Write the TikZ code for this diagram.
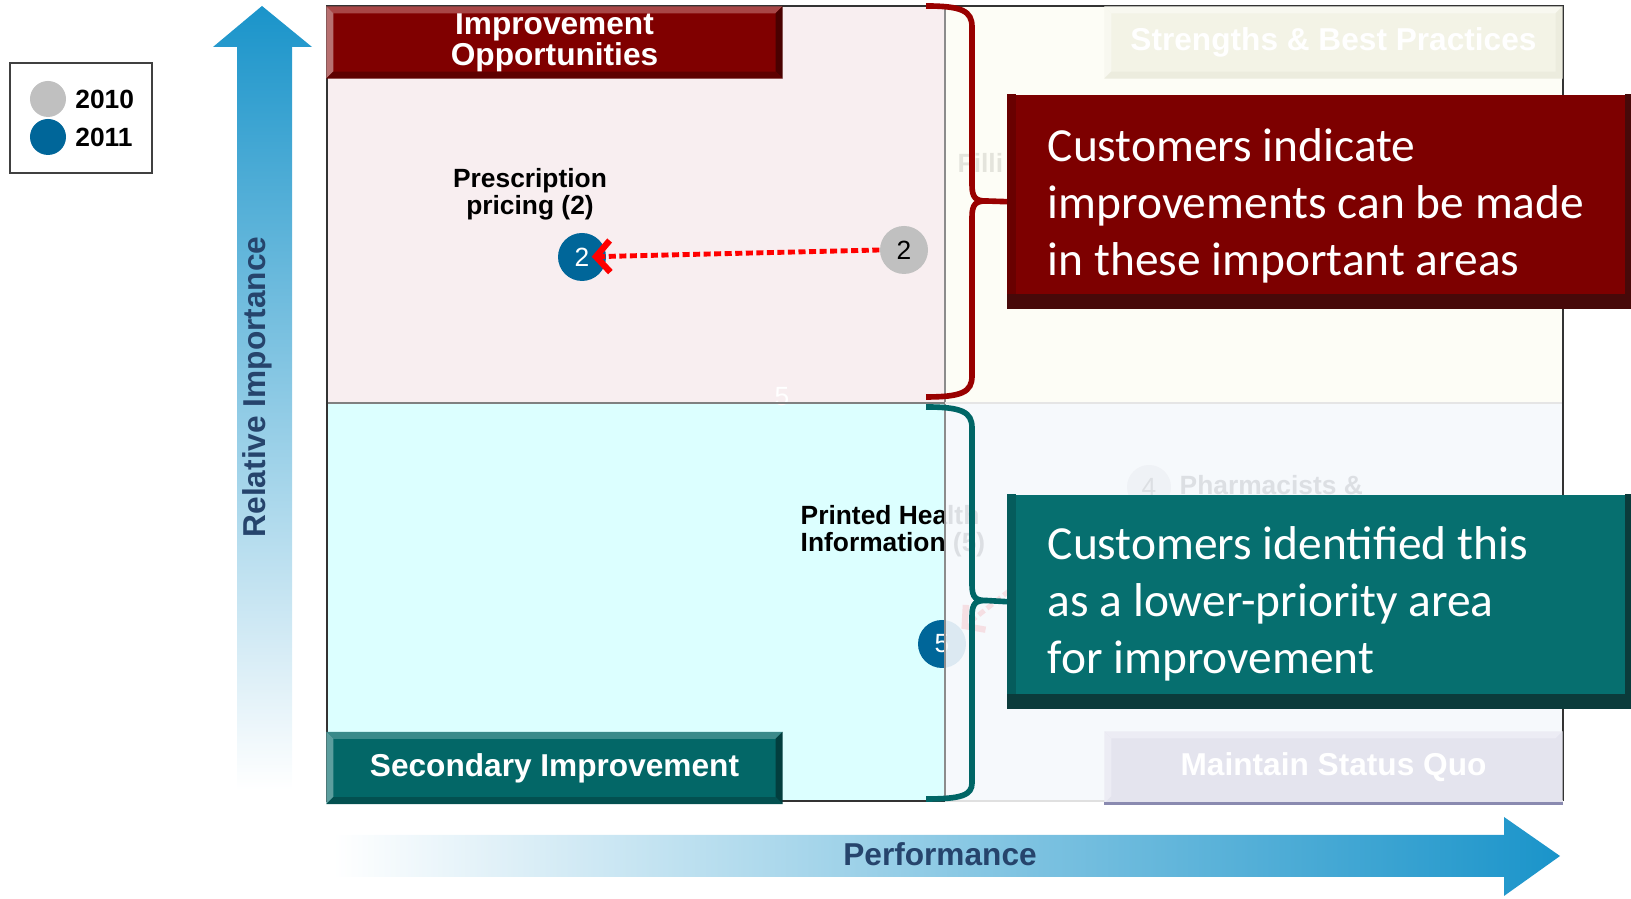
\documentclass[tikz,border=0pt]{standalone}
\usepackage{fontspec}
\setmainfont{Liberation Sans}
\newfontfamily\calfont{Carlito}
\usetikzlibrary{arrows.meta, positioning}

\definecolor{axisblue}{RGB}{26,148,202}
\definecolor{axismid}{RGB}{196,214,232}
\definecolor{axisvmid}{RGB}{140,184,218}
\definecolor{axistext}{RGB}{38,68,108}
\definecolor{tlfill}{RGB}{248,238,240}
\definecolor{trfill}{RGB}{253,253,245}
\definecolor{blfill}{RGB}{220,255,255}
\definecolor{brfill}{RGB}{245,248,252}
\definecolor{dotgray}{RGB}{192,192,192}
\definecolor{dotblue}{RGB}{0,102,153}
\definecolor{oppred}{RGB}{128,0,0}
\definecolor{oppTop}{RGB}{168,70,70}
\definecolor{oppLeft}{RGB}{184,112,112}
\definecolor{oppRight}{RGB}{74,0,0}
\definecolor{oppBot}{RGB}{94,0,0}
\definecolor{secteal}{RGB}{3,103,103}
\definecolor{secTop}{RGB}{58,138,138}
\definecolor{secLeft}{RGB}{92,158,158}
\definecolor{secRight}{RGB}{2,62,62}
\definecolor{secBot}{RGB}{3,80,80}
\definecolor{sbfill}{RGB}{243,243,230}
\definecolor{sbTop}{RGB}{248,248,240}
\definecolor{sbDark}{RGB}{236,236,222}
\definecolor{msfill}{RGB}{228,228,238}
\definecolor{msTop}{RGB}{236,236,244}
\definecolor{msBot}{RGB}{138,138,176}
\definecolor{callred}{RGB}{125,0,0}
\definecolor{callredLeft}{RGB}{105,0,0}
\definecolor{callredDark}{RGB}{71,9,9}
\definecolor{callteal}{RGB}{6,111,111}
\definecolor{calltealLeft}{RGB}{5,92,92}
\definecolor{calltealDark}{RGB}{11,59,59}
\definecolor{braceRed}{RGB}{153,0,0}
\definecolor{braceTeal}{RGB}{0,102,102}

% bevelled edges round a box node: node, depth, top, left, right, bottom
\newcommand{\bevel}[6]{%
  \fill[#3] (#1.north west) -- (#1.north east) -- ([shift={(-#2,-#2)}]#1.north east) -- ([shift={(#2,-#2)}]#1.north west) -- cycle;
  \fill[#4] (#1.north west) -- ([shift={(#2,-#2)}]#1.north west) -- ([shift={(#2,#2)}]#1.south west) -- (#1.south west) -- cycle;
  \fill[#5] (#1.north east) -- (#1.south east) -- ([shift={(-#2,#2)}]#1.south east) -- ([shift={(-#2,-#2)}]#1.north east) -- cycle;
  \fill[#6] (#1.south west) -- ([shift={(#2,#2)}]#1.south west) -- ([shift={(-#2,#2)}]#1.south east) -- (#1.south east) -- cycle;
}

\begin{document}
\begin{tikzpicture}[
    lbl/.style={font=\bfseries\fontsize{9}{8.8}\selectfont, text=white, align=center, inner sep=0, minimum width=4.55cm, minimum height=0.71cm},
    axislabel/.style={font=\bfseries\fontsize{9}{10}\selectfont, text=axistext},
    ptlabel/.style={font=\bfseries\fontsize{7.5}{7.7}\selectfont, inner sep=0},
    dotten/.style={circle, fill=dotgray, minimum size=0.48cm, inner sep=0, font=\fontsize{7.5}{8}\selectfont},
    doteleven/.style={circle, fill=dotblue, text=white, minimum size=0.48cm, inner sep=0, font=\fontsize{7.5}{8}\selectfont},
    trend/.style={red, line width=1.4pt, dash pattern=on 2pt off 1pt, -{Straight Barb[length=4pt, width=9pt, line width=1.8pt]}},
    notebox/.style={minimum width=6.24cm, minimum height=2.14cm, inner sep=0, anchor=north west},
    calltext/.style={font=\calfont\fontsize{13.5}{16.2}\selectfont, text=white, align=left, inner sep=0, anchor=west},
    redbrace/.style={draw=braceRed, line width=1.6pt},
    tealbrace/.style={draw=braceTeal, line width=1.6pt}
]
\useasboundingbox (0,0) rectangle (16.31,8.99);

% axes
\shade[top color=axisblue, middle color=axisvmid, bottom color=white]
    (2.37,1.09) -- (2.37,8.52) -- (2.13,8.52) -- (2.62,8.93) -- (3.12,8.52) -- (2.92,8.52) -- (2.92,1.09) -- cycle;
\node[axislabel, rotate=90] (imp) at (2.57,5.12) {Relative Importance};
\shade[left color=white, middle color=axismid, right color=axisblue]
    (3.33,0.22) -- (3.33,0.64) -- (15.04,0.64) -- (15.04,0.82) -- (15.60,0.43) -- (15.04,0.03) -- (15.04,0.22) -- cycle;
\node[axislabel] (perf) at (9.40,0.45) {Performance};

% legend
\node[draw=black!75, line width=0.8pt, minimum width=1.42cm, minimum height=1.10cm] (legend) at (0.81,7.81) {};
\node[dotten, minimum size=0.36cm] (leg10) at (0.48,8.00) {};
\node[doteleven, minimum size=0.36cm] (leg11) at (0.48,7.62) {};
\node[ptlabel, right=0.08cm of leg10] (leg10txt) {2010};
\node[ptlabel, right=0.08cm of leg11] (leg11txt) {2011};

% quadrants
\coordinate (nw) at (3.27,8.93);
\coordinate (se) at (15.63,0.98);
\coordinate (mid) at (9.45,4.96);
\fill[tlfill] (nw) rectangle (mid);
\fill[blfill] (nw |- se) rectangle (mid);

% points
\node[ptlabel, align=center] (rxlbl) at (5.30,7.05) {Prescription\\pricing (2)};
\node[dotten] (g2) at (9.04,6.49) {2};
\node[doteleven] (b2) at (5.82,6.42) {2};
\draw[trend, shorten >=-0.15cm] (g2.west) -- (b2);

\node[ptlabel, align=left, anchor=west] (phlbl) at (8.00,3.68) {Printed Health\\Information (5)};
\node[doteleven] (b5) at (9.42,2.55) {5};
\coordinate (g5) at (11.00,3.80);
\draw[trend] (g5) -- (b5);

\node[ptlabel, anchor=west] (filli) at (9.57,7.36) {Filli};
\node[dotten, minimum size=0.44cm] (g4) at (11.49,4.12) {4};
\node[ptlabel, anchor=west] (pharm) at (11.79,4.14) {Pharmacists \&};
\node[font=\fontsize{7.5}{8}\selectfont, text=white, inner sep=0] (five) at (7.82,5.02) {5};

% right half faded
\fill[trfill, fill opacity=0.9] (mid |- nw) rectangle (se |- mid);
\fill[brfill, fill opacity=0.9] (mid) rectangle (se);

% grid lines and frame
\draw[black!45, line width=0.6pt] (mid |- nw) -- (mid |- se);
\draw[black!50, line width=0.6pt] (nw |- mid) -- (mid);
\draw[black!10, line width=0.6pt] (mid) -- (se |- mid);
\draw[black!80, line width=0.7pt] (mid |- se) -- (nw |- se) -- (nw) -- (se |- nw) -- (se);
\draw[black!12, line width=0.6pt] (mid |- se) -- (se);

% quadrant labels
\node[lbl, fill=oppred] (iobox) at (5.545,8.565) {Improvement\\Opportunities};
\bevel{iobox}{0.07cm}{oppTop}{oppLeft}{oppRight}{oppBot}
\node[lbl, fill=secteal] (sibox) at (5.545,1.31) {\raisebox{-0.04cm}{Secondary Improvement}};
\bevel{sibox}{0.07cm}{secTop}{secLeft}{secRight}{secBot}
\node[lbl, fill=sbfill, minimum width=4.57cm] (sbbox) at (13.335,8.565) {\raisebox{-0.03cm}{Strengths \& Best Practices}};
\bevel{sbbox}{0.07cm}{sbTop}{sbTop}{sbDark}{sbDark}
\node[lbl, fill=msfill, minimum width=4.57cm] (msbox) at (13.335,1.315) {\raisebox{-0.04cm}{Maintain Status Quo}};
\bevel{msbox}{0.07cm}{msTop}{msTop}{msfill}{msfill}
\draw[msBot, line width=0.8pt] (msbox.south west) -- (msbox.south east);

% braces
\draw[redbrace] (9.26,8.93) .. controls (9.62,8.93) and (9.72,8.88) .. (9.72,8.72) -- (9.72,7.14)
    .. controls (9.72,7.01) and (9.76,6.98) .. (9.86,6.98)
    .. controls (9.76,6.98) and (9.72,6.95) .. (9.72,6.82) -- (9.72,5.23)
    .. controls (9.72,5.07) and (9.62,5.02) .. (9.26,5.02);
\draw[tealbrace] (9.26,4.92) .. controls (9.62,4.92) and (9.72,4.87) .. (9.72,4.71) -- (9.72,3.14)
    .. controls (9.72,3.01) and (9.76,2.985) .. (9.86,2.985)
    .. controls (9.76,2.985) and (9.72,2.96) .. (9.72,2.83) -- (9.72,1.16)
    .. controls (9.72,1.04) and (9.62,1.00) .. (9.26,1.00);

% callouts
\node[notebox, fill=callred] (redcall) at (10.07,8.05) {};
\fill[callredLeft] (redcall.north west) rectangle ([shift={(0.09cm,0.15cm)}]redcall.south west);
\fill[callredDark] (redcall.south west) rectangle ([yshift=0.15cm]redcall.south east);
\fill[callredDark] ([xshift=-0.07cm]redcall.north east) rectangle (redcall.south east);
\draw[redbrace] (9.86,6.98) -- (redcall.west);
\node[calltext] (redtxt) at ([shift={(0.40cm,-0.04cm)}]redcall.west) {Customers indicate\\improvements can be made\\in these important areas};

\node[notebox, fill=callteal] (tealcall) at (10.07,4.05) {};
\fill[calltealLeft] (tealcall.north west) rectangle ([shift={(0.09cm,0.15cm)}]tealcall.south west);
\fill[calltealDark] (tealcall.south west) rectangle ([yshift=0.15cm]tealcall.south east);
\fill[calltealDark] ([xshift=-0.07cm]tealcall.north east) rectangle (tealcall.south east);
\draw[tealbrace] (9.86,2.985) -- (tealcall.west);
\node[calltext] (tealtxt) at ([shift={(0.40cm,-0.02cm)}]tealcall.west) {Customers identified this\\as a lower-priority area\\for improvement};
\end{tikzpicture}
\end{document}
